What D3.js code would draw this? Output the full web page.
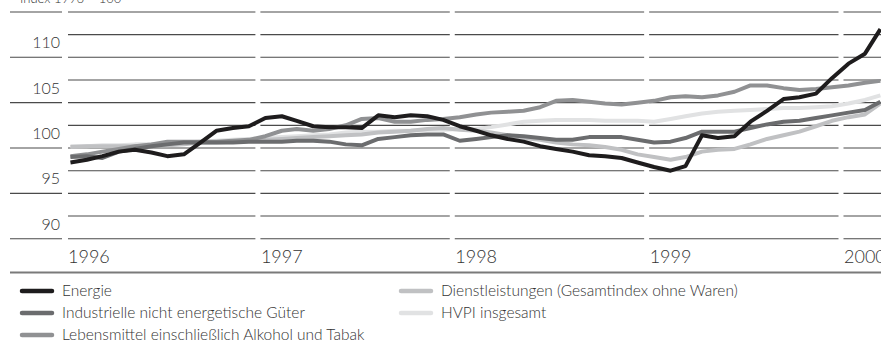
<!DOCTYPE html>
<html>
<head>
<meta charset="utf-8">
<script src="https://cdn.jsdelivr.net/npm/d3@7"></script>
<style>
  body { margin: 0; background: #fff; }
  svg { display: block; }
  text { font-family: Lato, "Open Sans", sans-serif; font-weight: 300; fill: #333; }
</style>
</head>
<body>
<svg id="chart" width="881" height="345"></svg>
<script>
// Monthly index values, January 1996 to March 2000 (1996 = 100)
const energie = [98.4, 98.7, 99.1, 99.6, 99.8, 99.5, 99.1, 99.3, 100.6, 101.9, 102.2, 102.4,
  103.3, 103.5, 103.0, 102.4, 102.3, 102.3, 102.2, 103.6, 103.4, 103.6, 103.5, 103.1,
  102.4, 101.9, 101.4, 101.0, 100.7, 100.2, 99.9, 99.6, 99.2, 99.1, 98.9, 98.4,
  97.9, 97.5, 98.0, 101.4, 101.1, 101.3, 102.9, 104.1, 105.4, 105.6, 106.0, 107.7,
  109.3, 110.4, 113.1];
const industrie = [99.0, 99.1, 98.9, 99.6, 99.9, 100.2, 100.4, 100.6, 100.6, 100.6, 100.6, 100.7,
  100.7, 100.7, 100.8, 100.8, 100.7, 100.4, 100.3, 101.0, 101.2, 101.4, 101.5, 101.5,
  100.8, 101.0, 101.2, 101.4, 101.3, 101.1, 100.9, 100.9, 101.2, 101.2, 101.2, 100.9,
  100.6, 100.7, 101.1, 101.8, 101.8, 101.8, 102.2, 102.6, 102.9, 103.0, 103.3, 103.6,
  103.9, 104.2, 105.1];
const lebensmittel = [99.1, 99.3, 99.6, 99.9, 100.2, 100.4, 100.7, 100.7, 100.7, 100.7, 100.8, 100.9,
  101.3, 101.9, 102.1, 101.9, 102.1, 102.5, 103.2, 103.3, 102.9, 102.9, 103.1, 103.2,
  103.4, 103.7, 103.9, 104.0, 104.1, 104.5, 105.2, 105.3, 105.1, 104.9, 104.8, 105.0,
  105.2, 105.6, 105.7, 105.6, 105.8, 106.2, 106.9, 106.9, 106.6, 106.4, 106.5, 106.7,
  106.9, 107.2, 107.4];
const dienstleistungen = [100.1, 100.2, 100.2, 100.2, 100.2, 100.3, 100.3, 100.4, 100.6, 100.6, 100.7, 100.8,
  100.9, 101.0, 101.1, 101.2, 101.3, 101.4, 101.5, 101.7, 101.8, 101.9, 102.1, 102.2,
  102.0, 101.9, 101.7, 101.4, 101.1, 100.9, 100.6, 100.4, 100.3, 100.1, 99.8, 99.3,
  99.0, 98.7, 99.0, 99.6, 99.8, 99.9, 100.4, 101.0, 101.4, 101.8, 102.4, 103.0,
  103.4, 103.7, 104.9];
const hvpi = [100.2, 100.2, 100.3, 100.3, 100.4, 100.4, 100.4, 100.6, 100.7, 100.8, 100.9, 101.0,
  101.1, 101.2, 101.3, 101.4, 101.5, 101.7, 101.8, 101.8, 101.9, 101.9, 102.0, 102.0,
  102.1, 102.1, 102.3, 102.6, 102.9, 103.0, 103.1, 103.1, 103.1, 103.0, 103.0, 103.0,
  102.9, 103.2, 103.5, 103.8, 104.0, 104.1, 104.2, 104.3, 104.4, 104.4, 104.5, 104.6,
  104.9, 105.3, 105.8];

const seriesNames = [
  "Energie",
  "Industrielle nicht energetische Güter",
  "Lebensmittel einschließlich Alkohol und Tabak",
  "Dienstleistungen (Gesamtindex ohne Waren)",
  "HVPI insgesamt"
];
const seriesValues = [energie, industrie, lebensmittel, dienstleistungen, hvpi];
const seriesColors = ["#1e1c1d", "#6b6c6e", "#909193", "#c0c1c3", "#e1e2e3"];

const yearTicks = [1996, 1997, 1998, 1999, 2000];
const yTickLabels = [90, 95, 100, 105, 110];
const gridValues = [90, 92.5, 95, 97.5, 100, 102.5, 105, 107.5, 110, 112.5, 115];
const unitLabel = "Index 1996 = 100";

const W = 881, H = 345;
const svg = d3.select("#chart");
svg.append("rect").attr("width", W).attr("height", H).attr("fill", "#fff");

// Scales: time on x, index on y
const x = d3.scaleTime()
  .domain([new Date(1996, 0, 1), new Date(2000, 0, 1)])
  .range([63, 841]);
const y = d3.scaleLinear().domain([90, 110]).range([238.7, 57.3]);

const plotLeft = 68, plotRight = W, gap = 2.5;
const yearX = yearTicks.map(yr => x(new Date(yr, 0, 1)));

// Horizontal grid, broken at each year boundary
const segs = [];
for (let i = 0; i < yearX.length; i++) {
  const x0 = i === 0 ? plotLeft : yearX[i] + gap;
  const x1 = i + 1 < yearX.length ? yearX[i + 1] - gap : plotRight;
  segs.push([x0, x1]);
}
const grid = svg.append("g");
gridValues.forEach(v => {
  segs.forEach(([a, b]) => {
    grid.append("line").attr("x1", a).attr("x2", b)
      .attr("y1", y(v)).attr("y2", y(v))
      .attr("stroke", "#4a4a4a").attr("stroke-width", 1.1);
  });
  if (v % 5 === 0) {
    grid.append("line").attr("x1", 10).attr("x2", 62)
      .attr("y1", y(v)).attr("y2", y(v))
      .attr("stroke", "#4a4a4a").attr("stroke-width", 1.1);
  }
});

// Y labels sit just above their tick line
svg.append("g").selectAll("text").data(yTickLabels).join("text")
  .attr("x", 60).attr("y", d => y(d) - 9)
  .attr("text-anchor", "end").attr("font-size", 16)
  .text(d => d);

svg.append("text").attr("x", 20).attr("y", 2.7)
  .attr("font-size", 13).text(unitLabel);

// Year labels, left-aligned at the start of each year
svg.append("g").selectAll("text").data(yearTicks).join("text")
  .attr("x", (d, i) => yearX[i] + (i === 0 ? 5 : 3)).attr("y", 263)
  .attr("font-size", 18)
  .text(d => d);

// Separator under the axis
svg.append("line").attr("x1", 10).attr("x2", W).attr("y1", 272.5).attr("y2", 272.5)
  .attr("stroke", "#7a7a7a").attr("stroke-width", 2);

// Series lines (drawn lightest first so Energie ends on top)
const line = d3.line()
  .x(d => x(d.date))
  .y(d => y(d.v));
const order = [4, 3, 2, 1, 0];
const lines = svg.append("g");
order.forEach(si => {
  const pts = seriesValues[si].map((v, i) => ({ date: new Date(1996, i, 15), v }));
  lines.append("path").datum(pts)
    .attr("d", line)
    .attr("fill", "none")
    .attr("stroke", seriesColors[si])
    .attr("stroke-width", 4)
    .attr("stroke-linejoin", "round");
});

// Legend in two columns
const legendPos = [
  { x: 22, y: 291 }, { x: 22, y: 313 }, { x: 22, y: 335 },
  { x: 401, y: 291 }, { x: 401, y: 313 }
];
const legend = svg.append("g");
seriesNames.forEach((name, i) => {
  const p = legendPos[i];
  legend.append("line").attr("x1", p.x).attr("x2", p.x + 30)
    .attr("y1", p.y).attr("y2", p.y)
    .attr("stroke", seriesColors[i]).attr("stroke-width", 4.5)
    .attr("stroke-linecap", "round");
  legend.append("text").attr("x", p.x + 40).attr("y", p.y + 5)
    .attr("font-size", 15.5).text(name);
});
</script>
</body>
</html>
